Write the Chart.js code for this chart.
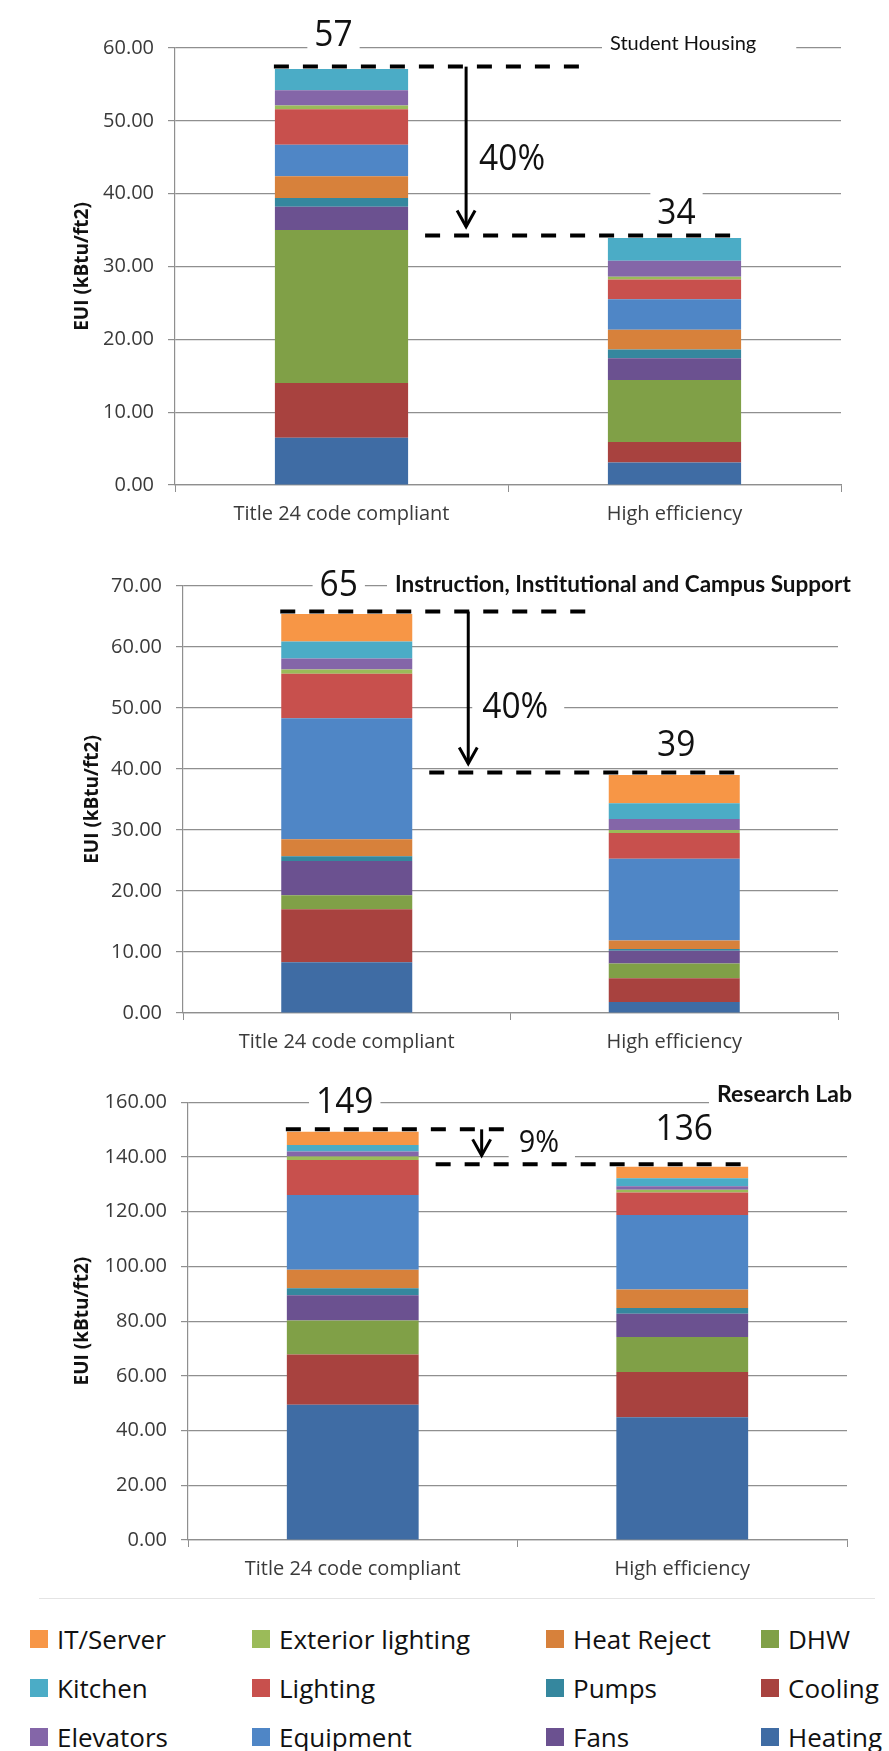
<!DOCTYPE html>
<html>
<head>
<meta charset="utf-8">
<script src="https://cdn.jsdelivr.net/npm/chart.js@4.4.1/dist/chart.umd.min.js"></script>
<style>
  body { margin: 0; background: #fff; width: 889px; height: 1751px; position: relative; overflow: hidden; font-family: "Open Sans", sans-serif; }
  canvas { position: absolute; left: 0; }
  #legend { position: absolute; left: 30px; top: 1614px; display: grid; grid-auto-flow: column;
            grid-template-rows: repeat(3, 49px); grid-template-columns: 222px 294px 215px 128px; }
  .item { display: flex; align-items: center; font-size: 26px; color: #111; white-space: nowrap; }
  .sw { width: 18px; height: 18px; margin-right: 9px; flex: none; }
  .rule { position: absolute; left: 39px; width: 836px; top: 1598px; height: 1px; background: #e4e4e4; }
</style>
</head>
<body>
<canvas id="housing" width="889" height="560" style="top:0"></canvas>
<canvas id="institutional" width="889" height="510" style="top:560px"></canvas>
<canvas id="lab" width="889" height="528" style="top:1070px"></canvas>
<div class="rule"></div>
<div id="legend"></div>
<script>
// scenarios on the x axis
const scenarios = ['Title 24 code compliant', 'High efficiency'];

// end uses, stacked bottom to top
const endUses = ['Heating', 'Cooling', 'DHW', 'Fans', 'Pumps', 'Heat Reject',
                 'Equipment', 'Lighting', 'Exterior lighting', 'Elevators', 'Kitchen', 'IT/Server'];
const endUseColors = ['#3f6ca4', '#a8423f', '#80a047', '#6b5190', '#35879e', '#d7813b',
                      '#4f86c6', '#c8504d', '#9bbb59', '#8466a8', '#4bacc6', '#f79646'];

// EUI by end use (kBtu/ft2)
const housingCode = [6.5, 7.5, 21.0, 3.2, 1.2, 3.0, 4.3, 4.9, 0.5, 2.1, 2.9, 0];
const housingHigh = [3.1, 2.8, 8.5, 3.0, 1.2, 2.7, 4.2, 2.7, 0.4, 2.2, 3.1, 0];
const instCode = [8.3, 8.7, 2.3, 5.6, 0.8, 2.8, 19.8, 7.3, 0.7, 1.8, 2.8, 4.5];
const instHigh = [1.8, 3.9, 2.4, 2.1, 0.3, 1.4, 13.4, 4.2, 0.5, 1.8, 2.6, 4.6];
const labCode = [49.4, 18.4, 12.4, 9.3, 2.5, 6.8, 27.3, 12.8, 1.3, 1.8, 2.4, 4.8];
const labHigh = [44.9, 16.5, 12.8, 8.5, 2.1, 6.8, 27.2, 8.2, 1.0, 1.3, 2.9, 4.2];

const gridGray = '#8f8f8f';
const numFont = '"Open Sans", sans-serif';

// text on a white box, centred vertically on its cap height; sx squeezes it sideways
function textBox(ctx, str, x, cy, font, align, padL, padR, halfH, sx = 1) {
  ctx.save();
  ctx.font = font;
  const w = ctx.measureText(str).width * sx;
  const cap = ctx.measureText('H').actualBoundingBoxAscent;
  const left = align === 'center' ? x - w / 2 : x;
  ctx.fillStyle = '#fff';
  ctx.fillRect(left - padL, cy - halfH, w + padL + padR, halfH * 2);
  ctx.fillStyle = '#111';
  ctx.textAlign = 'left';
  ctx.textBaseline = 'alphabetic';
  ctx.translate(left, cy + cap / 2);
  ctx.scale(sx, 1);
  ctx.fillText(str, 0, 0);
  ctx.restore();
}

function dashed(ctx, x0, x1, y) {
  ctx.save();
  ctx.strokeStyle = '#000';
  ctx.lineWidth = 4;
  ctx.setLineDash([15, 14]);
  ctx.beginPath();
  ctx.moveTo(x0, y);
  ctx.lineTo(x1, y);
  ctx.stroke();
  ctx.restore();
}

// totals, reduction arrow and building name
const savingsNotes = {
  id: 'savingsNotes',
  afterDatasetsDraw(chart, args, o) {
    const { ctx, scales: { x, y } } = chart;
    const totals = [0, 1].map(i => chart.data.datasets.reduce((s, d) => s + d.data[i], 0));
    const rounded = totals.map(Math.round);
    const pct = Math.round((rounded[0] - rounded[1]) / rounded[0] * 100) + '%';
    const w = chart.getDatasetMeta(0).data[0].width;
    const c0 = x.getPixelForValue(0), c1 = x.getPixelForValue(1);
    const yTop = y.getPixelForValue(totals[0]) - 2.5;
    const yLow = y.getPixelForValue(totals[1]) - 2.5;
    const ax = c0 + w / 2 + o.arrowDx;

    textBox(ctx, o.title, o.titleX, chart.chartArea.top + o.titleDy, o.titleFont, 'left', 8, o.titlePadR, 12);
    textBox(ctx, String(rounded[0]), c0 - 8, yTop + o.topDy, '36px ' + numFont, 'center', 7, 7, 19, 0.93);
    textBox(ctx, String(rounded[1]), c1 + 2, yLow + o.lowDy, '36px ' + numFont, 'center', 7, 7, 19, 0.93);
    textBox(ctx, pct, ax + o.pctDx, yTop + (yLow - yTop) * o.pctAt, o.pctSize + 'px ' + numFont, 'left', 10, 16, 18, 0.93);

    dashed(ctx, c0 - w / 2 - 1, c0 + w / 2 + o.topDashTo, yTop);
    dashed(ctx, c0 + w / 2 + 17, c1 + w / 2, yLow);

    const tip = yLow - 9;
    ctx.save();
    ctx.strokeStyle = '#000';
    ctx.lineWidth = 3;
    ctx.beginPath();
    ctx.moveTo(ax, yTop);
    ctx.lineTo(ax, tip);
    ctx.stroke();
    ctx.beginPath();
    ctx.moveTo(ax - 9, tip - 16);
    ctx.lineTo(ax, tip);
    ctx.lineTo(ax + 9, tip - 16);
    ctx.stroke();
    ctx.restore();
  }
};

function makeChart(id, code, high, yMax, yStep, box, notes) {
  const datasets = endUses.map((name, i) => ({
    label: name,
    data: [code[i], high[i]],
    backgroundColor: endUseColors[i],
    borderWidth: 0,
    categoryPercentage: 1,
    barPercentage: 0.4
  }));
  return new Chart(document.getElementById(id), {
    type: 'bar',
    data: { labels: scenarios, datasets: datasets },
    plugins: [savingsNotes],
    options: {
      responsive: false,
      animation: false,
      devicePixelRatio: 1,
      layout: { autoPadding: false, padding: { top: box.top, right: box.right, left: 0, bottom: 0 } },
      plugins: {
        legend: { display: false },
        tooltip: { enabled: false },
        savingsNotes: notes
      },
      scales: {
        x: {
          stacked: true,
          afterFit: s => { s.height = box.xHeight; },
          grid: { drawOnChartArea: false, offset: true, tickLength: 7, color: gridGray },
          border: { color: gridGray, width: 1.2 },
          ticks: { color: '#3a3a3a', font: { family: 'Open Sans', size: 20 }, padding: 10 }
        },
        y: {
          stacked: true,
          min: 0,
          max: yMax,
          afterFit: s => { s.width = box.yWidth; },
          grid: { color: gridGray, lineWidth: 1.2, tickLength: 7 },
          border: { color: gridGray, width: 1.2 },
          ticks: {
            stepSize: yStep,
            color: '#3a3a3a',
            padding: 14,
            font: { family: 'Open Sans', size: 20 },
            callback: v => v.toFixed(2)
          },
          title: {
            display: true,
            text: 'EUI (kBtu/ft2)',
            color: '#111',
            font: { family: 'Open Sans', size: 19, weight: 'bold' },
            padding: { top: box.titlePad, bottom: 0 }
          }
        }
      }
    }
  });
}

makeChart('housing', housingCode, housingHigh, 60, 10,
  { top: 48, right: 48, xHeight: 75, yWidth: 175, titlePad: 71 },
  { title: 'Student Housing', titleFont: '20px Lato', titleX: 610, titleDy: -4.7, titlePadR: 40,
    arrowDx: 58, topDashTo: 181, topDy: -34, pctDx: 13, pctAt: 0.536, pctSize: 36, lowDy: -25 });

makeChart('institutional', instCode, instHigh, 70, 10,
  { top: 24.5, right: 51, xHeight: 57, yWidth: 183, titlePad: 81 },
  { title: 'Instruction, Institutional and Campus Support', titleFont: 'bold 22.5px Lato', titleX: 395, titleDy: -2.8, titlePadR: 30,
    arrowDx: 56, topDashTo: 179, topDy: -29, pctDx: 14, pctAt: 0.58, pctSize: 36, lowDy: -30 });

makeChart('lab', labCode, labHigh, 160, 20,
  { top: 32.3, right: 42, xHeight: 58, yWidth: 188, titlePad: 71 },
  { title: 'Research Lab', titleFont: 'bold 23px Lato', titleX: 717, titleDy: -9, titlePadR: 30,
    arrowDx: 63, topDashTo: 91, topDy: -29, pctDx: 37, pctAt: 0.33, pctSize: 31, lowDy: -37.5 });

// legend in column order, reversed from the stacking order
const legend = document.getElementById('legend');
endUses.slice().reverse().forEach(name => {
  const i = endUses.indexOf(name);
  const item = document.createElement('div');
  item.className = 'item';
  const sw = document.createElement('span');
  sw.className = 'sw';
  sw.style.background = endUseColors[i];
  item.appendChild(sw);
  item.appendChild(document.createTextNode(name));
  legend.appendChild(item);
});
</script>
</body>
</html>
